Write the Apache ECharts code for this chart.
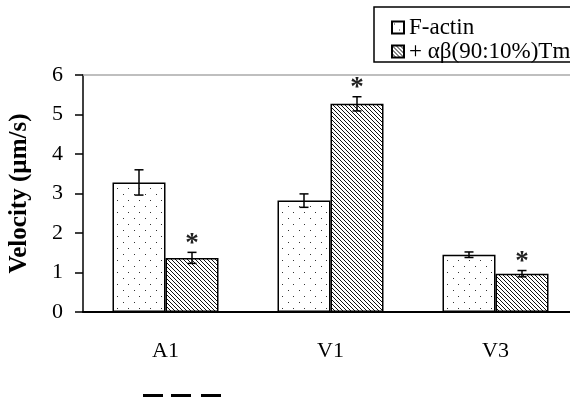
<!DOCTYPE html>
<html><head><meta charset="utf-8">
<script src="https://cdn.jsdelivr.net/npm/echarts@6/dist/echarts.min.js"></script>
<style>html,body{margin:0;padding:0;background:#fff}#c{width:570px;height:400px}</style>
</head><body><div id="c"></div>
<script>
const categories = ['A1', 'V1', 'V3'];
const seriesNames = ['F-actin', '+ αβ(90:10%)Tm'];
const factinValues = [3.28, 2.82, 1.45];
const factinErrors = [0.32, 0.17, 0.07];
const tmValues = [1.37, 5.27, 0.97];
const tmErrors = [0.14, 0.18, 0.08];
const tmSignificant = [1, 1, 1];
const factinSignificant = [0, 0, 0];
const yTitle = 'Velocity (µm/s)';

const BAR_W = 53;
const FONT = '"Liberation Serif", "Times New Roman", serif';

function dotPattern() {
  const c = document.createElement('canvas');
  c.width = 11; c.height = 12;
  const g = c.getContext('2d');
  g.fillStyle = '#fff'; g.fillRect(0, 0, 11, 12);
  g.fillStyle = '#333';
  g.fillRect(2, 2, 1, 1);
  g.fillRect(7, 8, 1, 1);
  return c;
}
function hatchPattern() {
  const c = document.createElement('canvas');
  c.width = 4; c.height = 4;
  const g = c.getContext('2d');
  g.fillStyle = '#fff'; g.fillRect(0, 0, 4, 4);
  g.fillStyle = '#111';
  for (let i = 0; i < 4; i++) g.fillRect(i, i, 1, 1);
  return c;
}

function errData(vals, errs, sig) {
  return vals.map((v, i) => [i, v, errs[i], sig[i]]);
}
function makeErrRender(offset) {
  return function (params, api) {
    const i = api.value(0), v = api.value(1), e = api.value(2), s = api.value(3);
    const x = api.coord([i, v])[0] + offset;
    const yt = api.coord([i, v + e])[1];
    const yb = api.coord([i, v - e])[1];
    const cap = 4.5;
    const st = { stroke: '#000', lineWidth: 1.5 };
    const children = [
      { type: 'line', shape: { x1: x, y1: yt, x2: x, y2: yb }, style: st },
      { type: 'line', shape: { x1: x - cap, y1: yt, x2: x + cap, y2: yt }, style: st },
      { type: 'line', shape: { x1: x - cap, y1: yb, x2: x + cap, y2: yb }, style: st }
    ];
    if (s) {
      children.push({ type: 'text', style: { text: '*', x: x, y: yt + 5, align: 'center', verticalAlign: 'bottom', font: 'bold 27px ' + FONT, fill: '#222' } });
    }
    return { type: 'group', children: children };
  };
}

const chart = echarts.init(document.getElementById('c'), null, { renderer: 'canvas' });
const barStyleBase = { borderColor: '#000', borderWidth: 1.5 };
chart.setOption({
  animation: false,
  backgroundColor: '#fff',
  grid: { left: 83, top: 75, width: 495, height: 237, containLabel: false, outerBoundsMode: 'none' },
  legend: {
    orient: 'vertical', left: 386, top: 11, itemWidth: 12, itemHeight: 12, itemGap: 1,
    icon: 'rect',
    textStyle: { fontFamily: FONT, fontSize: 23, color: '#000' },
    data: seriesNames
  },
  xAxis: {
    type: 'category', data: categories,
    axisLine: { lineStyle: { color: '#000', width: 2 } },
    axisTick: { show: false },
    axisLabel: { fontFamily: FONT, fontSize: 22, color: '#000', margin: 28 }
  },
  yAxis: {
    type: 'value', min: 0, max: 6, interval: 1,
    name: yTitle, nameLocation: 'middle', nameGap: 51, nameRotate: 90,
    nameTextStyle: { fontFamily: FONT, fontSize: 25, fontWeight: 'bold', color: '#000' },
    axisLine: { show: true, lineStyle: { color: '#000', width: 1.5 } },
    axisTick: { show: true, length: 8, lineStyle: { color: '#000', width: 1.5 } },
    axisLabel: { fontFamily: FONT, fontSize: 22, color: '#000', margin: 20 },
    splitLine: { show: false }
  },
  graphic: [
    { type: 'rect', z: -1, shape: { x: 374, y: 7, width: 230, height: 55 }, style: { fill: '#fff', stroke: '#000', lineWidth: 1.5 } },
    { type: 'rect', shape: { x: 143, y: 394, width: 20, height: 3 }, style: { fill: '#000' } },
    { type: 'rect', shape: { x: 171, y: 394, width: 20, height: 3 }, style: { fill: '#000' } },
    { type: 'rect', shape: { x: 201, y: 394, width: 20, height: 3 }, style: { fill: '#000' } }
  ],
  series: [
    {
      name: seriesNames[0], type: 'bar', data: factinValues, barWidth: BAR_W, barGap: '0%',
      itemStyle: Object.assign({ color: { image: dotPattern(), repeat: 'repeat' } }, barStyleBase),
      markLine: { silent: true, symbol: 'none', label: { show: false }, lineStyle: { color: '#aaa', width: 1.5, type: 'solid' }, data: [{ yAxis: 6 }] }
    },
    {
      name: seriesNames[1], type: 'bar', data: tmValues, barWidth: BAR_W, barGap: '0%',
      itemStyle: Object.assign({ color: { image: hatchPattern(), repeat: 'repeat' } }, barStyleBase)
    },
    { type: 'custom', renderItem: makeErrRender(-BAR_W / 2), data: errData(factinValues, factinErrors, factinSignificant), z: 10 },
    { type: 'custom', renderItem: makeErrRender(BAR_W / 2), data: errData(tmValues, tmErrors, tmSignificant), z: 10 }
  ]
});
</script></body></html>
